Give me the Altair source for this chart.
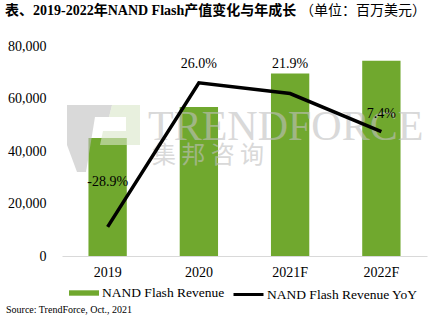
import altair as alt
import pandas as pd

years = ["2019", "2020", "2021F", "2022F"]
revenue = [45000, 56800, 69500, 74400]
yoy = [-28.9, 26.0, 21.9, 7.4]
yoy_labels = ["-28.9%", "26.0%", "21.9%", "7.4%"]
y_ticks = [0, 20000, 40000, 60000, 80000]
bar_name = "NAND Flash Revenue"
line_name = "NAND Flash Revenue YoY"
title_text = "表、2019-2022年NAND Flash产值变化与年成长"
unit_text = "（单位：百万美元）"
source_text = "Source: TrendForce, Oct., 2021"

df = pd.DataFrame({"year": years, "revenue": revenue, "yoy": yoy,
                   "label": yoy_labels, "bar_s": [bar_name] * 4,
                   "line_s": [line_name] * 4})

W, H = 365, 210
GREEN = "#70A82E"
FONT = "Liberation Serif"
CJK = "Liberation Serif, Noto Sans CJK SC"

xenc = alt.X("year:N", sort=years, title=None,
             scale=alt.Scale(paddingInner=0.58, paddingOuter=0.29),
             axis=alt.Axis(labelAngle=0, domainColor="#d9d9d9", domainWidth=1,
                           ticks=False, labelPadding=9, labelFontSize=14,
                           labelColor="black", labelFont=FONT))

bars = alt.Chart(df).mark_bar().encode(
    x=xenc,
    y=alt.Y("revenue:Q", title=None,
            scale=alt.Scale(domain=[0, 80000], nice=False),
            axis=alt.Axis(values=y_ticks, format=",.0f", domain=False, ticks=False,
                          grid=False, labelPadding=16, labelFontSize=14,
                          labelColor="black", labelFont=FONT)),
    fill=alt.Fill("bar_s:N", scale=alt.Scale(domain=[bar_name], range=[GREEN]),
                  legend=alt.Legend(title=None, orient="none", legendX=7, legendY=232,
                                    symbolType="M-1,-0.18H1V0.18H-1Z", symbolSize=900,
                                    symbolStrokeWidth=0, labelOffset=3,
                                    labelFontSize=13.5, labelFont=FONT,
                                    labelColor="black", padding=0)),
)

# TrendForce watermark (decorative)
LOGO_GRAY = "M-1,-0.959L0.233,-0.959L0.151,-0.63L-0.233,-0.63L-0.479,0.877L-0.726,0.877L-1,0.137Z"
LOGO_GREEN = "M0.233,-0.959L1,-0.959L1,0.137L-0.096,0.137L-0.014,-0.247L0.616,-0.247L0.616,-0.63L0.151,-0.63Z"
logo_df = pd.DataFrame({"k": ["logo"]})
logo1 = alt.Chart(logo_df).mark_point(
    shape=LOGO_GRAY, size=5329, filled=True, color="#c0c0c0", opacity=0.6, strokeWidth=0
).encode(x=alt.value(41.5), y=alt.value(94))
logo2 = alt.Chart(logo_df).mark_point(
    shape=LOGO_GREEN, size=5329, filled=True, color="#d9e6c8", opacity=0.6, strokeWidth=0
).encode(x=alt.value(41.5), y=alt.value(94))

wm1 = alt.Chart(pd.DataFrame({"t": ["TRENDFORCE"]})).mark_text(
    font=FONT, fontSize=42, align="left", baseline="alphabetic",
    color="#c0c0c0", opacity=0.6
).encode(x=alt.value(86), y=alt.value(94), text="t:N")

wm2 = alt.Chart(pd.DataFrame({"t": ["集 邦 咨 询"]})).mark_text(
    font="Noto Sans CJK SC", fontSize=24, align="center", baseline="middle",
    color="#c0c0c0", opacity=0.6
).encode(x=alt.value(146), y=alt.value(110), text="t:N")

yoy_scale = alt.Scale(domain=[-40, 40], nice=False)

line = alt.Chart(df).mark_line(strokeWidth=3.5, strokeCap="butt").encode(
    x=alt.X("year:N", sort=years),
    y=alt.Y("yoy:Q", scale=yoy_scale, axis=None),
    stroke=alt.Stroke("line_s:N", scale=alt.Scale(domain=[line_name], range=["black"]),
                      legend=alt.Legend(title=None, orient="none", legendX=170, legendY=232,
                                        symbolType="stroke", symbolSize=900,
                                        symbolStrokeWidth=3, labelOffset=2,
                                        labelFontSize=13.5, labelFont=FONT,
                                        labelColor="black", padding=0)),
)

label_dy = {"2019": -45, "2020": -19, "2021F": -30, "2022F": -18}
label_layers = []
for yr in years:
    label_layers.append(
        alt.Chart(df).transform_filter(alt.datum.year == yr).mark_text(
            font=FONT, fontSize=14, color="black", baseline="middle",
            align="center", dy=label_dy[yr]
        ).encode(
            x=alt.X("year:N", sort=years),
            y=alt.Y("yoy:Q", scale=yoy_scale, axis=None),
            text="label:N",
        )
    )

source = alt.Chart(pd.DataFrame({"t": [source_text]})).mark_text(
    font=FONT, fontSize=10, align="left", baseline="middle", color="black"
).encode(x=alt.value(-56), y=alt.value(264), text="t:N")

title = alt.Chart(pd.DataFrame({"t": [title_text]})).mark_text(
    font=CJK, fontSize=14, fontWeight="bold", align="left", baseline="middle",
    color="black"
).encode(x=alt.value(-57), y=alt.value(-35), text="t:N")

unit = alt.Chart(pd.DataFrame({"t": [unit_text]})).mark_text(
    font=CJK, fontSize=14, align="left", baseline="middle", color="black"
).encode(x=alt.value(238), y=alt.value(-35), text="t:N")

right = alt.layer(line, *label_layers)

chart = alt.layer(bars, logo1, logo2, wm1, wm2, source, title, unit, right).resolve_scale(
    y="independent", fill="independent", stroke="independent"
).properties(
    width=W, height=H,
    autosize=alt.AutoSizeParams(type="none"),
    padding={"left": 62, "top": 46, "right": 10, "bottom": 65},
).configure(
    background="white", font=FONT
).configure_view(stroke=None).configure_axis(
    labelFont=FONT
).configure_legend(labelFont=FONT)

chart.save("out.html", embed_options={"renderer": "svg", "actions": False})
